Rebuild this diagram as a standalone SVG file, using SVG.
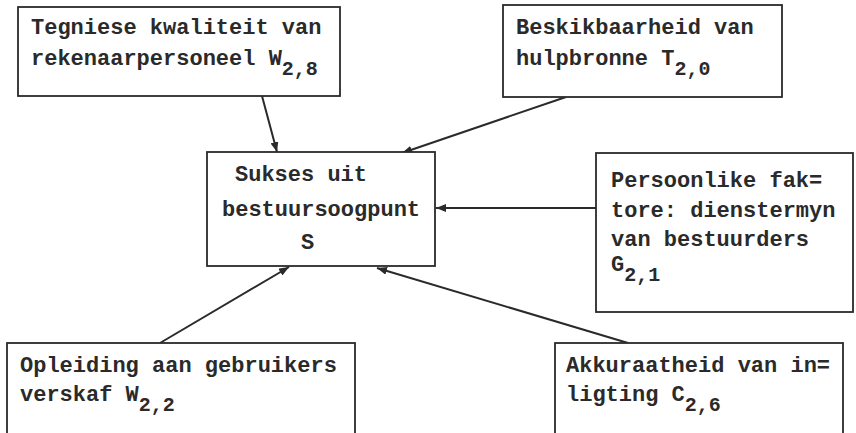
<svg xmlns="http://www.w3.org/2000/svg" width="856" height="433" viewBox="0 0 856 433">
  <defs>
    <style>
      .box { fill: #ffffff; stroke: #2a2a2a; stroke-width: 1.8; }
      .lbl { font-family: "Liberation Mono", "DejaVu Sans Mono", monospace; font-size: 22px; font-weight: bold; fill: #2a2a2a; }
      .sub { font-size: 20px; }
      .edge { stroke: #2a2a2a; stroke-width: 2; fill: none; marker-end: url(#head); }
    </style>
    <marker id="head" viewBox="0 0 10 8" refX="10" refY="4" markerWidth="10" markerHeight="8" markerUnits="userSpaceOnUse" orient="auto">
      <path d="M0,0 L10,4 L0,8 Z" fill="#2a2a2a"/>
    </marker>
  </defs>
  <rect width="856" height="433" fill="#ffffff"/>

  <g id="connectors">
    <line class="edge" x1="262" y1="96" x2="277" y2="152"/>
    <line class="edge" x1="566" y1="97" x2="402" y2="153"/>
    <line class="edge" x1="596" y1="208" x2="436" y2="208"/>
    <line class="edge" x1="160" y1="343" x2="289" y2="267"/>
    <line class="edge" x1="628" y1="343" x2="377" y2="268"/>
  </g>

  <g id="node-tegniese">
    <rect class="box" x="18" y="7" width="322" height="89"/>
    <text class="lbl" x="31" y="34">Tegniese kwaliteit van</text>
    <text class="lbl" x="31" y="65">rekenaarpersoneel W<tspan class="sub" dy="10">2,8</tspan></text>
  </g>

  <g id="node-beskikbaarheid">
    <rect class="box" x="503" y="5" width="279" height="92"/>
    <text class="lbl" x="516" y="34">Beskikbaarheid van</text>
    <text class="lbl" x="516" y="65">hulpbronne T<tspan class="sub" dy="10">2,0</tspan></text>
  </g>

  <g id="node-sukses">
    <rect class="box" x="207" y="152" width="228" height="114"/>
    <text class="lbl" x="235" y="181">Sukses uit</text>
    <text class="lbl" x="222" y="216">bestuursoogpunt</text>
    <text class="lbl" x="301" y="249">S</text>
  </g>

  <g id="node-persoonlike">
    <rect class="box" x="596" y="153" width="257" height="159"/>
    <text class="lbl" x="611" y="187">Persoonlike fak=</text>
    <text class="lbl" x="611" y="217">tore: dienstermyn</text>
    <text class="lbl" x="611" y="246">van bestuurders</text>
    <text class="lbl" x="611" y="271">G<tspan class="sub" dy="10">2,1</tspan></text>
  </g>

  <g id="node-opleiding">
    <rect class="box" x="7" y="343" width="348" height="100"/>
    <text class="lbl" x="20" y="372">Opleiding aan gebruikers</text>
    <text class="lbl" x="20" y="401">verskaf W<tspan class="sub" dy="10">2,2</tspan></text>
  </g>

  <g id="node-akkuraatheid">
    <rect class="box" x="555" y="343" width="288" height="100"/>
    <text class="lbl" x="566" y="372">Akkuraatheid van in=</text>
    <text class="lbl" x="566" y="401">ligting C<tspan class="sub" dy="10">2,6</tspan></text>
  </g>
</svg>
